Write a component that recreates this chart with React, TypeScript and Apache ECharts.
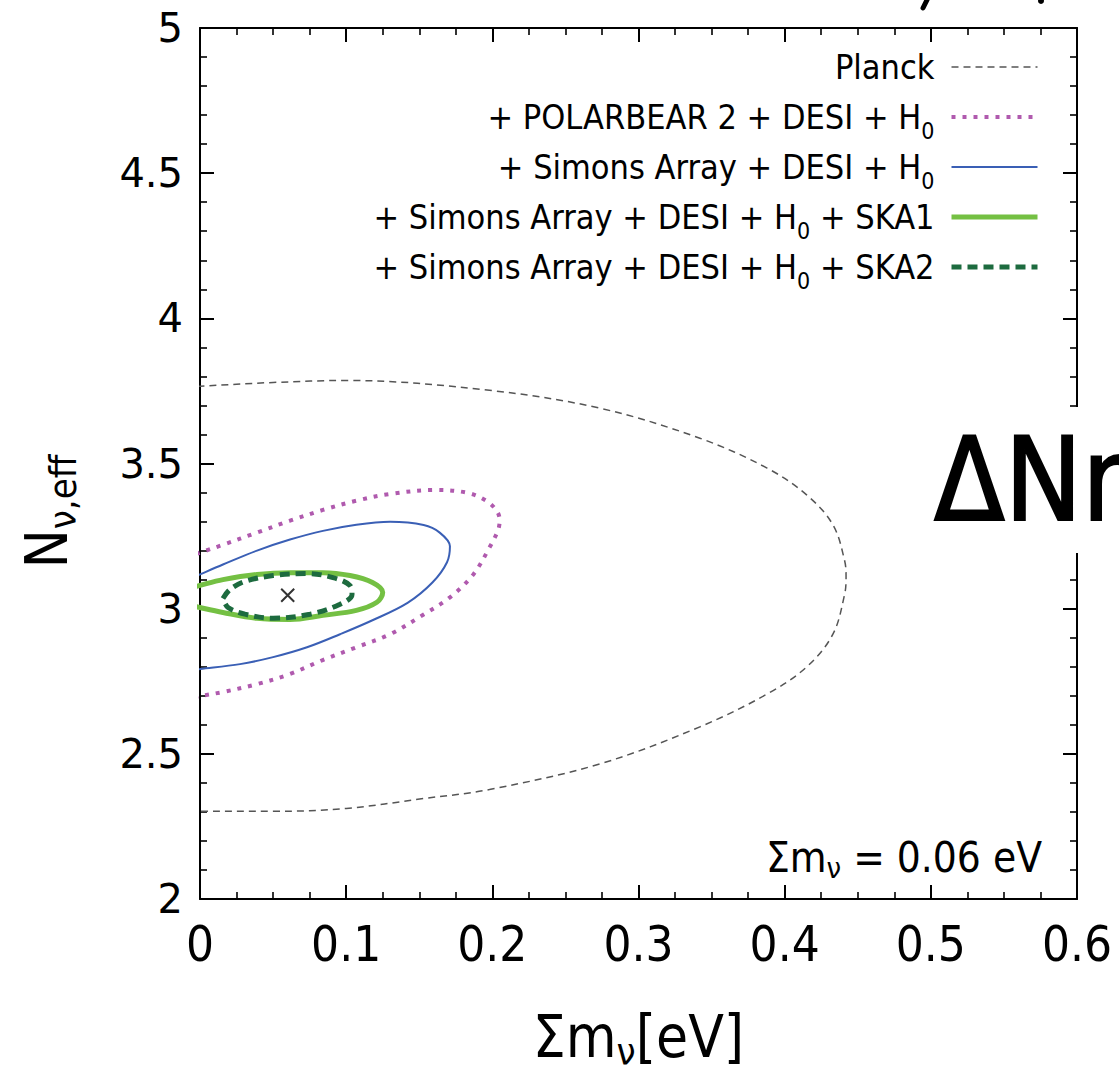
import React, { useEffect, useRef } from "react";
import * as echarts from "echarts";

// Contours: [Σmν (eV), N_eff]
const planck: [number, number][] = [
  [-0.01, 3.762], [0, 3.766], [0.05, 3.779], [0.1006, 3.786], [0.198, 3.752],
  [0.274, 3.69], [0.342, 3.587], [0.388, 3.484], [0.415, 3.392], [0.433, 3.289],
  [0.441, 3.166], [0.442, 3.107], [0.441, 3.049], [0.433, 2.912], [0.415, 2.799],
  [0.388, 2.706], [0.342, 2.593], [0.274, 2.466], [0.198, 2.377], [0.153, 2.346],
  [0.1, 2.312], [0.05, 2.302], [0, 2.302], [-0.01, 2.303],
];
const polarbear: [number, number][] = [
  [-0.01, 3.176], [0, 3.193], [0.0157, 3.22], [0.039, 3.262], [0.0616, 3.303],
  [0.0841, 3.34], [0.107, 3.372], [0.13, 3.395], [0.161, 3.409], [0.183, 3.399],
  [0.196, 3.371], [0.203, 3.337], [0.205, 3.306], [0.204, 3.272], [0.198, 3.21],
  [0.187, 3.118], [0.171, 3.039], [0.153, 2.98], [0.13, 2.912], [0.107, 2.867],
  [0.084, 2.823], [0.0616, 2.775], [0.039, 2.74], [0.0157, 2.713], [0, 2.699],
  [-0.01, 2.69],
];
const simons: [number, number][] = [
  [-0.01, 3.096], [0, 3.118], [0.0157, 3.152], [0.039, 3.2], [0.0616, 3.238],
  [0.0841, 3.268], [0.107, 3.289], [0.13, 3.299], [0.153, 3.288], [0.164, 3.262],
  [0.171, 3.215], [0.169, 3.16], [0.159, 3.09], [0.142, 3.02], [0.118, 2.96],
  [0.0958, 2.912], [0.0732, 2.867], [0.05, 2.833], [0.0274, 2.809], [0, 2.792],
  [-0.01, 2.786],
];
const ska1: [number, number][] = [
  [-0.01, 3.066], [0, 3.08], [0.0157, 3.1], [0.039, 3.118], [0.0616, 3.124],
  [0.0841, 3.124], [0.1026, 3.114], [0.118, 3.09], [0.125, 3.056], [0.121, 3.022],
  [0.107, 2.994], [0.0841, 2.977], [0.0616, 2.963], [0.039, 2.967], [0.0157, 2.987],
  [0, 3.004], [-0.01, 3.016],
];
const ska2: [number, number][] = [
  [0.0157, 3.035], [0.0205, 3.066], [0.0308, 3.094], [0.05, 3.114], [0.0732, 3.121],
  [0.091, 3.107], [0.1026, 3.08], [0.104, 3.049], [0.0958, 3.015], [0.0753, 2.981],
  [0.05, 2.967], [0.0308, 2.981], [0.0192, 3.004], [0.0157, 3.035],
];
const fiducial: [number, number][] = [[0.06, 3.046]];

const seriesNames = [
  "Planck",
  "+ POLARBEAR 2 + DESI + H0",
  "+ Simons Array + DESI + H0",
  "+ Simons Array + DESI + H0 + SKA1",
  "+ Simons Array + DESI + H0 + SKA2",
];

const xRange = [0, 0.6];
const yRange = [2, 5];
const xStep = 0.1;
const yStep = 0.5;

const SANS = "'DejaVu Sans Condensed', 'Liberation Sans', sans-serif";
const YFONT = "'DejaVu Sans', sans-serif";

export default function App() {
  const ref = useRef<HTMLDivElement>(null);
  useEffect(() => {
    document.body.style.margin = "0";
    if (!ref.current) return;
    const chart = echarts.init(ref.current, undefined, { renderer: "svg" });

    const axisCommon = {
      type: "value" as const,
      axisLine: { show: true, onZero: false, lineStyle: { color: "#000", width: 2 } },
      axisTick: { show: true, inside: true, length: 14, lineStyle: { color: "#000", width: 2 } },
      minorTick: { show: true, length: 7, lineStyle: { color: "#000", width: 1.6 } },
      splitLine: { show: false },
      minorSplitLine: { show: false },
    };

    const line = (name: string, data: [number, number][], color: string, width: number, type: any, z: number) => ({
      name,
      type: "line",
      data,
      smooth: 0.35,
      symbol: "none",
      showSymbol: false,
      clip: true,
      z,
      lineStyle: { color, width, type, cap: "butt" },
      itemStyle: { color },
    });

    chart.setOption({
      animation: false,
      backgroundColor: "#fff",
      grid: { left: 200, top: 28, width: 877, height: 875, containLabel: false },
      xAxis: [
        {
          ...axisCommon,
          position: "bottom",
          min: xRange[0],
          max: xRange[1],
          interval: xStep,
          minorTick: { ...axisCommon.minorTick, splitNumber: 4 },
          axisLabel: { show: true, margin: 21, fontSize: 49, fontFamily: SANS, color: "#000" },
          name: "{a|Σm}{s|ν}{a|[eV]}",
          nameLocation: "middle",
          nameGap: 104,
          nameTextStyle: {
            color: "#000",
            fontFamily: SANS,
            fontSize: 58,
            lineHeight: 68,
            rich: {
              a: { fontFamily: SANS, fontSize: 58, lineHeight: 68, color: "#000" },
              s: { fontFamily: SANS, fontSize: 38, lineHeight: 30, verticalAlign: "bottom", color: "#000" },
            },
          },
        },
        {
          ...axisCommon,
          position: "top",
          min: xRange[0],
          max: xRange[1],
          interval: xStep,
          minorTick: { ...axisCommon.minorTick, splitNumber: 4 },
          axisLabel: { show: false },
        },
      ],
      yAxis: [
        {
          ...axisCommon,
          position: "left",
          min: yRange[0],
          max: yRange[1],
          interval: yStep,
          minorTick: { ...axisCommon.minorTick, splitNumber: 5 },
          axisLabel: { show: true, margin: 17, fontSize: 40, fontFamily: YFONT, color: "#000" },
          name: "{n|N}{s|ν,eff}",
          nameLocation: "middle",
          nameRotate: 90,
          nameGap: 118,
          nameTextStyle: {
            color: "#000",
            fontFamily: SANS,
            fontSize: 58,
            lineHeight: 70,
            padding: [0, 96, 0, 0],
            rich: {
              n: { fontFamily: SANS, fontSize: 58, lineHeight: 70, color: "#000" },
              s: { fontFamily: SANS, fontSize: 38, lineHeight: 36, verticalAlign: "bottom", color: "#000" },
            },
          },
        },
        {
          ...axisCommon,
          position: "right",
          min: yRange[0],
          max: yRange[1],
          interval: yStep,
          minorTick: { ...axisCommon.minorTick, splitNumber: 5 },
          axisLabel: { show: false },
        },
      ],
      legend: {
        data: seriesNames,
        orient: "vertical",
        align: "right",
        right: 79,
        top: 42,
        padding: 0,
        itemGap: 0,
        itemWidth: 86,
        itemHeight: 14,
        selectedMode: false,
        formatter: (name: string) => name.replace("H0", "H{s|0}"),
        itemStyle: { color: "rgba(0,0,0,0)", borderWidth: 0, opacity: 0 },
        lineStyle: { width: "inherit", opacity: 1 },
        textStyle: {
          fontFamily: SANS,
          fontSize: 34,
          color: "#000",
          lineHeight: 50,
          padding: [0, 12, 0, 0],
          rich: {
            s: { fontFamily: SANS, fontSize: 23, lineHeight: 20, verticalAlign: "bottom", color: "#000" },
          },
        },
      },
      series: [
        line(seriesNames[0], planck, "#555555", 1.5, [7, 5], 2),
        line(seriesNames[1], polarbear, "#b05aae", 4, [4, 7], 3),
        line(seriesNames[2], simons, "#3a5fb5", 2, "solid", 4),
        line(seriesNames[3], ska1, "#74c043", 5, "solid", 5),
        line(seriesNames[4], ska2, "#1d6b3f", 5, [10, 6], 6),
        {
          name: "fiducial",
          type: "scatter",
          data: fiducial,
          symbol: "path://M0 0 L10 10 M10 0 L0 10",
          symbolSize: 13,
          z: 7,
          itemStyle: { color: "none", borderColor: "#000", borderWidth: 2 },
        },
      ],
      graphic: [
        {
          type: "text",
          x: 1042,
          y: 857,
          z: 50,
          style: {
            text: "{a|Σm}{s|ν}{a| = 0.06 eV}",
            align: "right",
            verticalAlign: "middle",
            fill: "#000",
            fontFamily: SANS,
            fontSize: 42,
            rich: {
              a: { fontFamily: SANS, fontSize: 42, lineHeight: 50, fill: "#000" },
              s: { fontFamily: SANS, fontSize: 29, lineHeight: 26, verticalAlign: "bottom", fill: "#000" },
            },
          },
        },
        {
          type: "text",
          x: 926,
          y: 480,
          z: 100,
          style: {
            text: "ΔNn",
            align: "left",
            verticalAlign: "middle",
            fill: "#000",
            stroke: "#000",
            lineWidth: 2,
            fontFamily: SANS,
            fontSize: 115,
            lineHeight: 146,
            backgroundColor: "#fff",
            padding: [0, 30, 0, 8],
          },
        },
        {
          type: "line",
          z: 100,
          shape: { x1: 927, y1: 0, x2: 923, y2: 8 },
          style: { stroke: "#000", lineWidth: 5, lineCap: "round" },
        },
        {
          type: "circle",
          z: 100,
          shape: { cx: 1041, cy: 1, r: 3 },
          style: { fill: "#000" },
        },
      ],
    });
    return () => chart.dispose();
  }, []);
  return <div ref={ref} style={{ width: 1119, height: 1076 }} />;
}
